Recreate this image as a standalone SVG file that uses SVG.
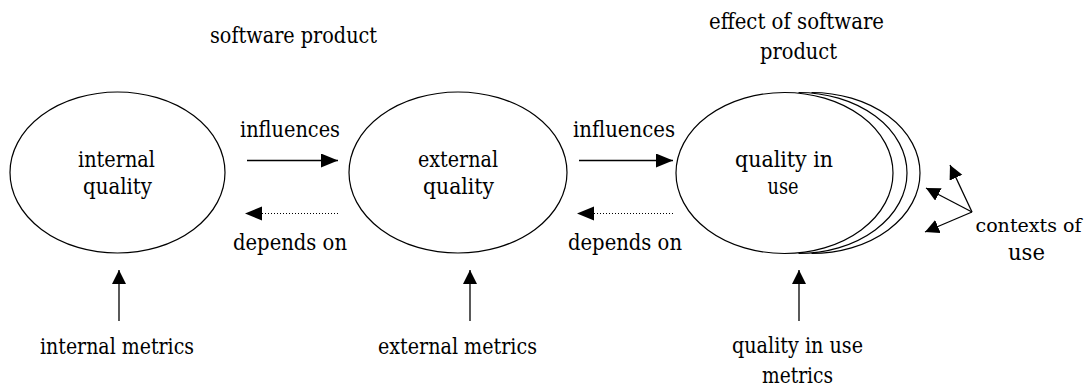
<svg xmlns="http://www.w3.org/2000/svg" width="1087" height="386" viewBox="0 0 1087 386">
<style>
text{font-family:'DejaVu Serif','Liberation Serif',serif;font-size:22px;fill:#000;text-anchor:middle}
.el{fill:none;stroke:#000;stroke-width:1.2}
.ln{fill:none;stroke:#000;stroke-width:1.3}
.dot{fill:none;stroke:#000;stroke-width:1.2;stroke-dasharray:1 2}
</style>
<defs>
<marker id="ah" markerUnits="userSpaceOnUse" markerWidth="18" markerHeight="16" refX="17" refY="7" orient="auto">
<path d="M0,0 L17,7 L0,14 Z" fill="#000"/>
</marker>
<marker id="ahs" markerUnits="userSpaceOnUse" markerWidth="16" markerHeight="16" refX="14" refY="7" orient="auto">
<path d="M0,0 L14,7 L0,14 Z" fill="#000"/>
</marker>
</defs>
<g id="labels-top">
<text x="293.5" y="43" textLength="167" lengthAdjust="spacingAndGlyphs">software product</text>
<text x="796.5" y="29" textLength="175" lengthAdjust="spacingAndGlyphs">effect of software</text>
<text x="798.5" y="59" textLength="77" lengthAdjust="spacingAndGlyphs">product</text>
</g>
<g id="internal-quality">
<ellipse class="el" cx="117.5" cy="172.5" rx="107.5" ry="80.5"/>
<text x="116.5" y="167" textLength="77" lengthAdjust="spacingAndGlyphs">internal</text>
<text x="117.5" y="194" textLength="69" lengthAdjust="spacingAndGlyphs">quality</text>
</g>
<g id="external-quality">
<ellipse class="el" cx="458" cy="172.5" rx="109" ry="80.5"/>
<text x="458" y="167" textLength="80" lengthAdjust="spacingAndGlyphs">external</text>
<text x="458.5" y="194" textLength="71" lengthAdjust="spacingAndGlyphs">quality</text>
</g>
<g id="quality-in-use">
<ellipse class="el" cx="784.5" cy="173" rx="108.5" ry="80.5"/>
<path class="el" d="M798.5,92.5 A108.5,80.5 0 0 1 798.5,253.5"/>
<path class="el" d="M811.5,92.5 A108.5,80.5 0 0 1 811.5,253.5"/>
<text x="784" y="167" textLength="98" lengthAdjust="spacingAndGlyphs">quality in</text>
<text x="783" y="194" textLength="31" lengthAdjust="spacingAndGlyphs">use</text>
</g>
<g id="internal-metrics">
<text x="117" y="354" textLength="154" lengthAdjust="spacingAndGlyphs">internal metrics</text>
</g>
<g id="external-metrics">
<text x="457.5" y="354" textLength="159" lengthAdjust="spacingAndGlyphs">external metrics</text>
</g>
<g id="quality-in-use-metrics">
<text x="797.5" y="353" textLength="131" lengthAdjust="spacingAndGlyphs">quality in use</text>
<text x="797.5" y="383" textLength="71" lengthAdjust="spacingAndGlyphs">metrics</text>
</g>
<g id="contexts-of-use">
<text x="1028.5" y="232" font-size="18" textLength="106" lengthAdjust="spacingAndGlyphs" style="font-size:18px">contexts of</text>
<text x="1026.5" y="260" textLength="37" lengthAdjust="spacingAndGlyphs">use</text>
</g>
<g id="connectors">
<line class="ln" x1="247" y1="160.5" x2="338" y2="160.5" marker-end="url(#ah)"/>
<line class="dot" x1="338" y1="213.5" x2="245" y2="213.5" marker-end="url(#ah)"/>
<line class="ln" x1="579" y1="160.5" x2="673" y2="160.5" marker-end="url(#ah)"/>
<line class="dot" x1="673" y1="213.5" x2="577" y2="213.5" marker-end="url(#ah)"/>
<line class="ln" x1="119" y1="321" x2="119" y2="270" marker-end="url(#ahs)"/>
<line class="ln" x1="470" y1="321" x2="470" y2="270" marker-end="url(#ahs)"/>
<line class="ln" x1="799" y1="321" x2="799" y2="270" marker-end="url(#ahs)"/>
<line class="ln" x1="972" y1="212" x2="950" y2="165" marker-end="url(#ahs)"/>
<line class="ln" x1="972" y1="212" x2="926" y2="188" marker-end="url(#ahs)"/>
<line class="ln" x1="972" y1="212" x2="925" y2="232" marker-end="url(#ahs)"/>
<text x="290" y="137" textLength="100" lengthAdjust="spacingAndGlyphs">influences</text>
<text x="624" y="137" textLength="102" lengthAdjust="spacingAndGlyphs">influences</text>
<text x="290" y="250" textLength="114" lengthAdjust="spacingAndGlyphs">depends on</text>
<text x="625" y="250" textLength="114" lengthAdjust="spacingAndGlyphs">depends on</text>
</g>
</svg>
